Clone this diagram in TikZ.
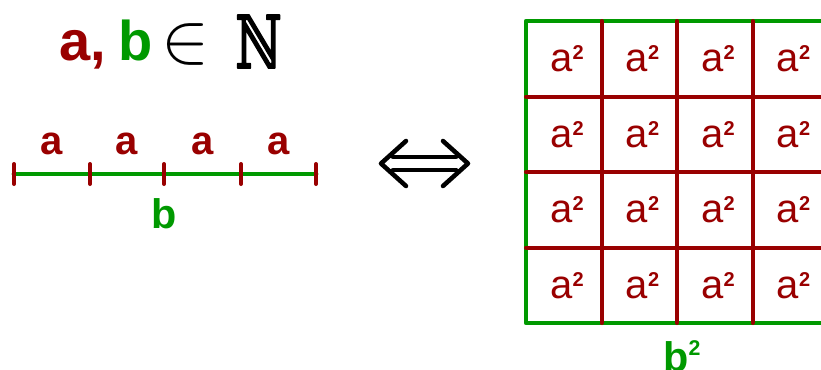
\documentclass[tikz,border=0pt]{standalone}
\usepackage{amssymb}
\usepackage{graphicx}
\usepackage{fontspec}
\setmainfont{Liberation Sans}
\newfontfamily\bbfont[FakeBold=2.5]{DejaVu Serif}
\usetikzlibrary{positioning,calc}
\definecolor{dkred}{HTML}{990000}
\definecolor{dkgreen}{HTML}{009900}
\newcommand{\asq}{a\raisebox{9.3pt}{\fontsize{15}{15}\selectfont\bfseries 2}}
\newcommand{\bsq}{b\raisebox{11.5pt}{\fontsize{16}{16}\selectfont\bfseries 2}}

\begin{document}
\begin{tikzpicture}[
		x=0.75pt,
		y=-0.75pt,
		line cap=round,
		line join=round,
		settitle/.style={font=\fontsize{42}{48}\selectfont\bfseries, inner sep=0pt},
		seglabel/.style={text=dkred, font=\fontsize{30}{36}\selectfont\bfseries, inner sep=0pt},
		sumlabel/.style={text=dkgreen, font=\fontsize{31}{36}\selectfont\bfseries, inner sep=0pt},
		celllabel/.style={text=dkred, font=\fontsize{30}{32}\selectfont, inner sep=0pt},
		tickmark/.style={draw=dkred, line width=3pt},
		gridline/.style={draw=dkred, line width=3pt},
		frame/.style={draw=dkgreen, line width=3.2pt},
		equiv/.style={draw=black, line width=3.4pt}
		]
		
		% page
		\useasboundingbox (0,0) rectangle (821,369);
		\clip (0,0) rectangle (821,369);
		
		% title
		\node[settitle, text=dkred, anchor=base west] (ta) at (59,60) {a,};
		\node[settitle, text=dkgreen, anchor=base west] (tb) at (118,60) {b};
		\node[inner sep=0pt] (tin) at (185,44) {\scalebox{5.4}{$\in$}};
		\node[inner sep=0pt] (tN) at (258.5,41.5) {\scalebox{0.76}[1.09]{\bbfont\fontsize{50}{50}\selectfont ℕ}};
		
		% segment b split into four a
		\foreach \i/\xx in {0/14,1/90,2/164,3/241,4/316}
			\coordinate (t\i) at (\xx,174);
		\draw[frame, line width=3.6pt] (t0) -- (t4);
		\foreach \i in {0,...,4}
			\draw[tickmark] ($(t\i)+(0,-10)$) -- ($(t\i)+(0,10)$);
		\foreach \i/\j in {0/1,1/2,2/3,3/4}
			\node[seglabel, above=14pt of {$(t\i)!0.5!(t\j)$}] (a\i) {a};
		\node[sumlabel, below=18pt of t2] (b) {b};
		
		% equivalence arrow
		\coordinate (arL) at (381,163.5);
		\coordinate (arR) at (468,163.5);
		\draw[equiv] (393,157) -- (456,157);
		\draw[equiv] (393,170) -- (456,170);
		\draw[equiv] (406,141) -- (arL) -- (406,186);
		\draw[equiv] (443,141) -- (arR) -- (443,186);
		
		% square of side b
		\coordinate (sqNW) at (526,21);
		\coordinate (sqSE) at (828,323);
		\draw[frame] (sqNW) rectangle (sqSE);
		\foreach \i in {1,2,3} {
			\draw[gridline] (526+75.5*\i,21) -- (526+75.5*\i,323);
			\draw[gridline] (526,21+75.5*\i) -- (828,21+75.5*\i);
		}
		\foreach \r in {0,...,3}
			\foreach \c in {0,...,3}
				\node[celllabel] (c\r\c) at (567+75.5*\c,59+75.5*\r) {\asq};
		
		% area label
		\node[sumlabel, anchor=base] (area) at (682,371) {\bsq};
	\end{tikzpicture}
\end{document}
